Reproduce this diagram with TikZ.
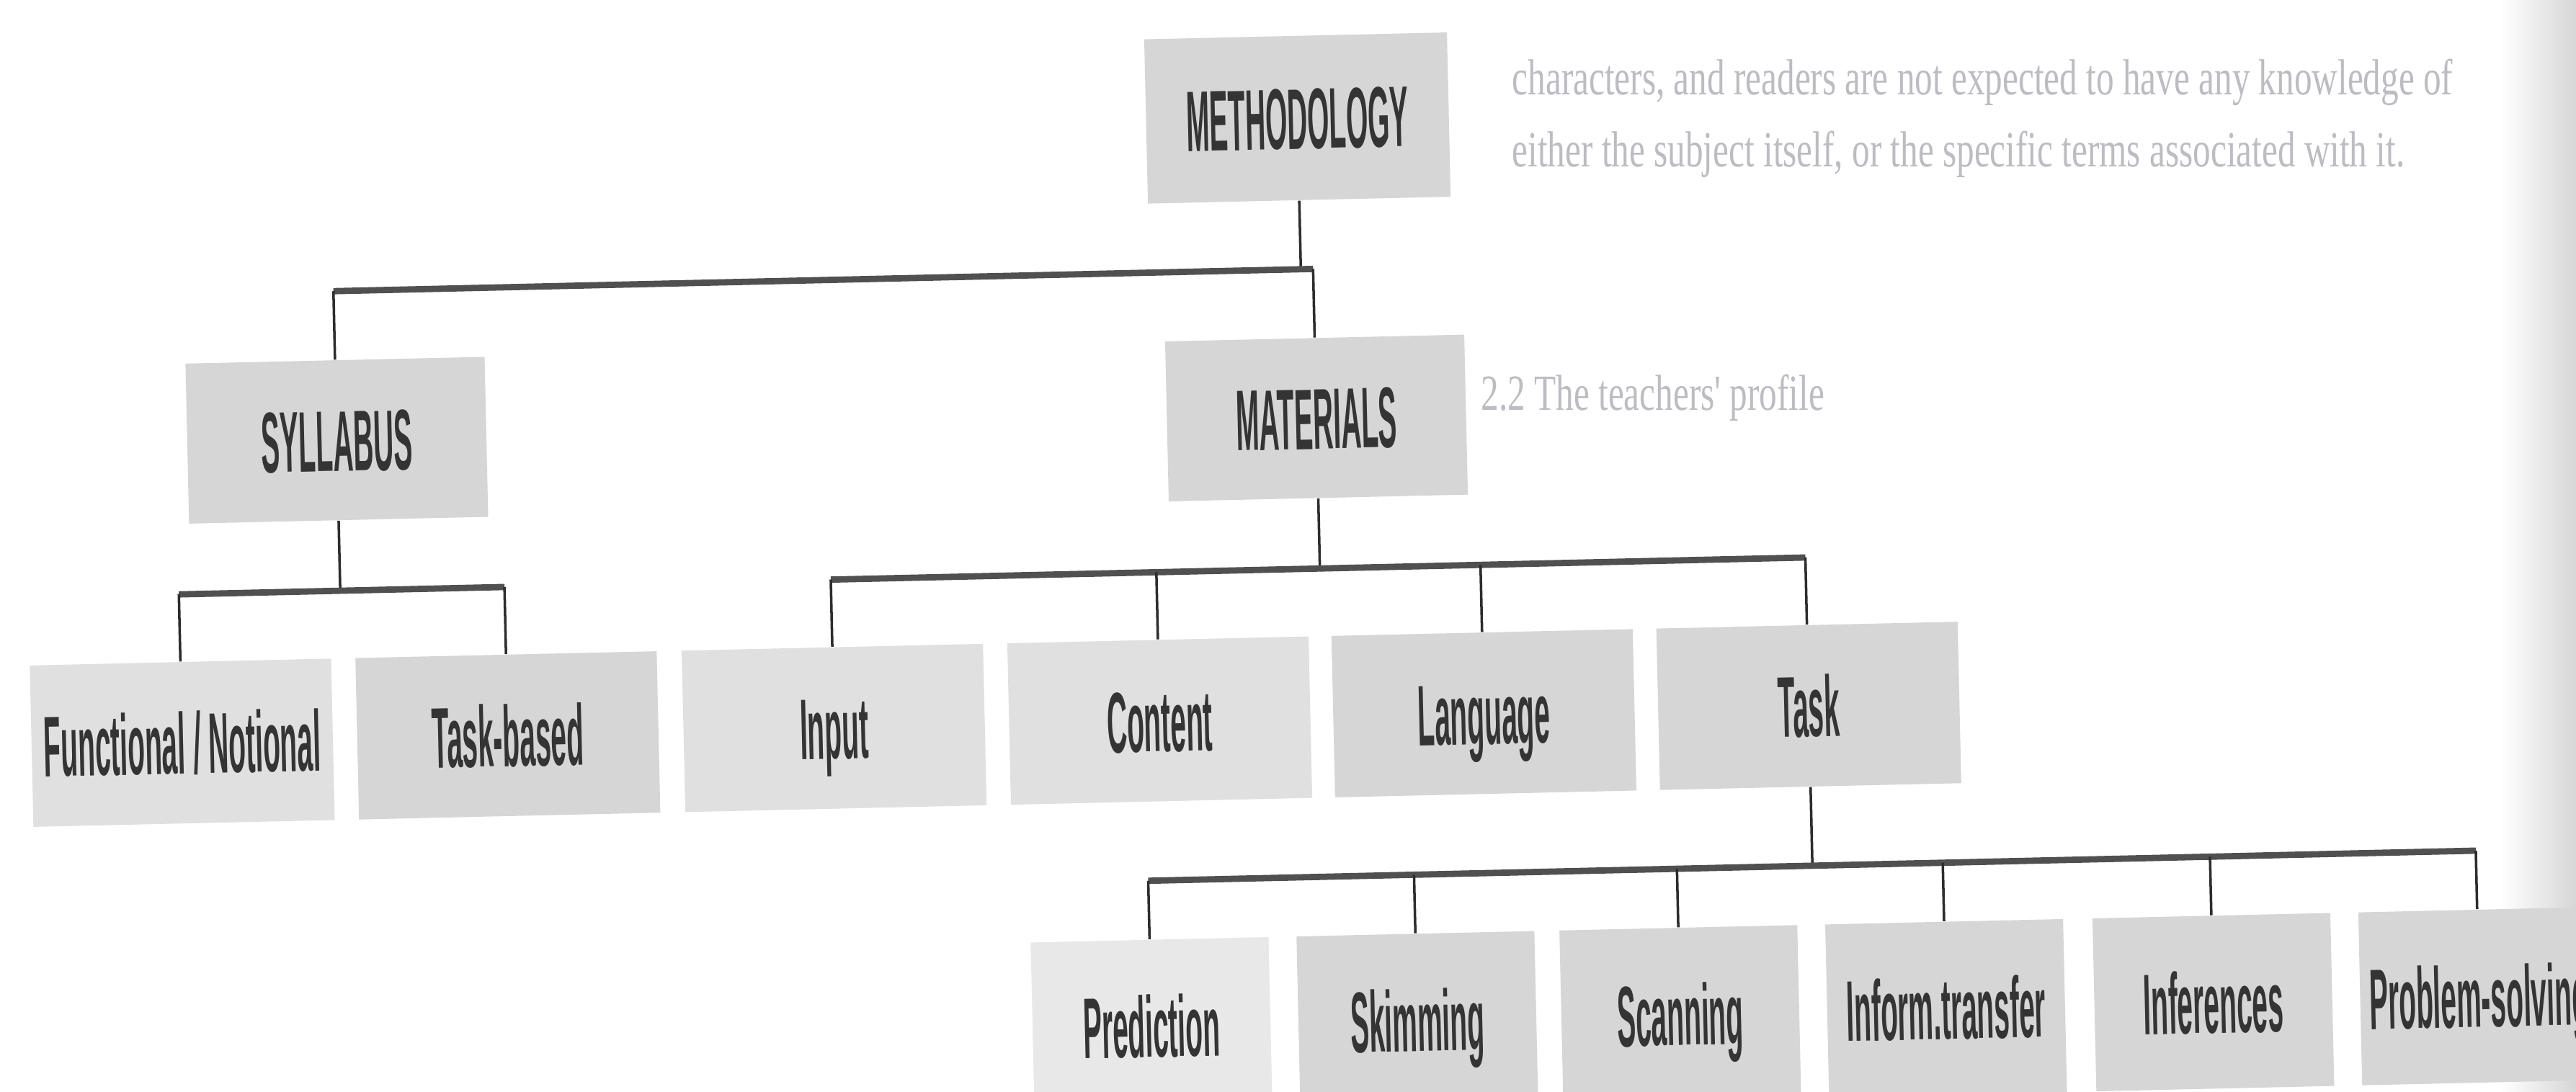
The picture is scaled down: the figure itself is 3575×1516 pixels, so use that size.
\documentclass[tikz,border=0pt]{standalone}
\usepackage{fontspec}
\newfontfamily\boxfont[FakeStretch=0.325]{Liberation Sans Bold}
\newfontfamily\ghostfont[FakeStretch=0.7]{Liberation Serif}
\definecolor{boxgray}{RGB}{214,214,214}
\definecolor{boxlight}{RGB}{224,224,224}
\definecolor{boxpale}{RGB}{232,232,232}
\definecolor{ink}{RGB}{52,52,52}
\definecolor{barink}{RGB}{80,80,80}
\definecolor{stemink}{RGB}{45,45,45}
\definecolor{ghostink}{RGB}{188,188,196}
\begin{document}
\begin{tikzpicture}[x=0.01cm,y=-0.01cm,
  box/.style={fill=boxgray, draw=none, inner sep=0pt, text=ink,
     font=\boxfont\fontsize{34}{40}\selectfont, text height=0.86cm, text depth=0pt,
     minimum width=4.18cm, minimum height=2.24cm, transform shape},
  toprow/.style={minimum width=4.2cm, minimum height=2.28cm},
  midrow/.style={minimum width=4.15cm, minimum height=2.22cm},
  lowrow/.style={minimum width=3.3cm, minimum height=2.40cm},
  light/.style={fill=boxlight},
  pale/.style={fill=boxpale},
  bar/.style={draw=barink, line width=2.5pt},
  stem/.style={draw=stemink, line width=1pt},
  ghost/.style={font=\ghostfont\fontsize{20}{24}\selectfont, text=ghostink, inner sep=0pt, anchor=base west}
]
\useasboundingbox (0,0) rectangle (3575,1516);
\clip (0,0) rectangle (3575,1516);
\fill[white] (0,0) rectangle (3575,1516);

% faint text of the page
\node[ghost] (g1) at (2098,132) {characters, and readers are not expected to have any knowledge of};
\node[ghost] (g2) at (2098,232) {either the subject itself, or the specific terms associated with it.};
\node[ghost] (g3) at (2055,570) {2.2 The teachers' profile};

% page curl shadow at the right edge
\shade[left color=white, right color=black!16] (3470,0) rectangle (3575,1516);

\begin{scope}[rotate around={1.3:(1800,800)}]
\node[box,toprow] (meth) at (1815,164) {METHODOLOGY};
\node[box,midrow] (syl) at (472,581) {SYLLABUS};
\node[box,midrow] (mat) at (1832,581) {MATERIALS};

\node[box,light] (func) at (248,996) {Functional / Notional};
\node[box] (tb) at (700,996) {Task-based};
\node[box,light] (inp) at (1153,996) {Input};
\node[box,light] (cont) at (1605,996) {Content};
\node[box] (lang) at (2055,996) {Language};
\node[box] (task) at (2506,996) {Task};

\node[box,lowrow,pale] (pred) at (1584,1420) {Prediction};
\node[box,lowrow] (skim) at (1953,1420) {Skimming};
\node[box,lowrow] (scan) at (2318,1420) {Scanning};
\node[box,lowrow] (info) at (2687,1420) {Inform.transfer};
\node[box,lowrow] (infer) at (3058,1420) {Inferences};
\node[box,lowrow] (prob) at (3427,1420) {Problem-solving};

% METHODOLOGY
\coordinate (j0) at (1815,374);
\coordinate (j0L) at (472,374);
\coordinate (j0R) at (1832,374);
\draw[stem] (meth.south) -- (j0);
\draw[bar] (j0L) -- (j0R);
\draw[stem] (j0L) -- (syl.north);
\draw[stem] (j0R) -- (mat.north);

% SYLLABUS
\coordinate (j1) at (472,790);
\coordinate (j1L) at (248,790);
\coordinate (j1R) at (700,790);
\draw[stem] (syl.south) -- (j1);
\draw[bar] (j1L) -- (j1R);
\draw[stem] (j1L) -- (func.north);
\draw[stem] (j1R) -- (tb.north);

% MATERIALS
\coordinate (j2) at (1832,790);
\coordinate (j2a) at (1153,790);
\coordinate (j2b) at (1605,790);
\coordinate (j2c) at (2055,790);
\coordinate (j2d) at (2506,790);
\draw[stem] (mat.south) -- (j2);
\draw[bar] (j2a) -- (j2d);
\draw[stem] (j2a) -- (inp.north);
\draw[stem] (j2b) -- (cont.north);
\draw[stem] (j2c) -- (lang.north);
\draw[stem] (j2d) -- (task.north);

% TASK
\coordinate (j3) at (2506,1218);
\coordinate (j3a) at (1584,1218);
\coordinate (j3b) at (1953,1218);
\coordinate (j3c) at (2318,1218);
\coordinate (j3d) at (2687,1218);
\coordinate (j3e) at (3058,1218);
\coordinate (j3f) at (3427,1218);
\draw[stem] (task.south) -- (j3);
\draw[bar] (j3a) -- (j3f);
\draw[stem] (j3a) -- (pred.north);
\draw[stem] (j3b) -- (skim.north);
\draw[stem] (j3c) -- (scan.north);
\draw[stem] (j3d) -- (info.north);
\draw[stem] (j3e) -- (infer.north);
\draw[stem] (j3f) -- (prob.north);
\end{scope}
\end{tikzpicture}
\end{document}
